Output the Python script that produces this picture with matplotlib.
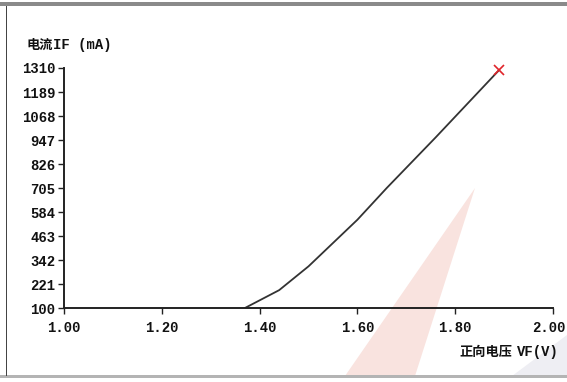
import matplotlib.pyplot as plt
import matplotlib.transforms as mtransforms
from matplotlib.patches import Polygon, Rectangle

plt.rcParams['font.family'] = ['Noto Sans CJK SC', 'DejaVu Sans']

# forward voltage (V) and forward current (mA)
vf = [1.37, 1.44, 1.50, 1.60, 1.66, 1.76, 1.89]
if_ma = [100, 190, 310, 545, 705, 960, 1300]

# end point marker
vf_end = [1.89]
if_end = [1300]

yticks = [100, 221, 342, 463, 584, 705, 826, 947, 1068, 1189, 1310]
xticks = [1.00, 1.20, 1.40, 1.60, 1.80, 2.00]
xticklabels = ['1.00', '1.20', '1.40', '1.60', '1.80', '2.00']

fig = plt.figure(figsize=(5.67, 3.82), dpi=100)
W, H = 567.0, 382.0

# faint watermark wedges behind everything
fig.patches.append(Polygon([(475 / W, 1 - 188 / H), (345 / W, 1 - 376 / H), (415 / W, 1 - 376 / H)],
                           closed=True, transform=fig.transFigure,
                           facecolor='#f9e3df', edgecolor='none', zorder=-2))
fig.patches.append(Polygon([(1.0, 1 - 335 / H), (1.0, 1 - 376 / H), (512 / W, 1 - 376 / H)],
                           closed=True, transform=fig.transFigure,
                           facecolor='#eeeef3', edgecolor='none', zorder=-2))

# outer frame
fig.patches.append(Rectangle((0, 1 - 6 / H), 1, 4 / H, transform=fig.transFigure,
                             facecolor='#8a8a8a', edgecolor='none', zorder=-1))
fig.patches.append(Rectangle((0, 4 / H), 1, 3 / H, transform=fig.transFigure,
                             facecolor='#b4b4b4', edgecolor='none', zorder=-1))
fig.patches.append(Rectangle((6 / W, 6 / H), 1.2 / W, 1 - 12 / H, transform=fig.transFigure,
                             facecolor='#444444', edgecolor='none', zorder=-1))

ax = fig.add_axes([64 / W, 1 - 308 / H, (553 - 64) / W, (308 - 68) / H])
ax.patch.set_alpha(0)

ax.plot(vf, if_ma, color='#333333', linewidth=1.3)
ax.plot(vf_end, if_end, marker='x', color='#e0242a', markersize=7, markeredgewidth=1.2,
        linestyle='none', clip_on=False)

ax.set_xlim(1.0, 2.0)
ax.set_ylim(100, 1310)
ax.set_xticks(xticks)
ax.set_xticklabels(xticklabels)
ax.set_yticks(yticks)

for s in ['top', 'right']:
    ax.spines[s].set_visible(False)
for s in ['left', 'bottom']:
    ax.spines[s].set_linewidth(1.4)
    ax.spines[s].set_color('#222222')

ax.tick_params(axis='both', direction='out', length=4, width=1, colors='#222222',
               pad=2)
for lab in ax.get_xticklabels() + ax.get_yticklabels():
    lab.set_fontfamily('Liberation Mono')
    lab.set_fontweight('bold')
    lab.set_fontsize(10)
    lab.set_color('#111111')
for lab in ax.get_xticklabels():
    lab.set_y(-0.02)

# last x label sits against the right edge
last = ax.get_xticklabels()[-1]
last.set_horizontalalignment('right')
last.set_transform(last.get_transform() + mtransforms.ScaledTranslation(13 / 100, 0, fig.dpi_scale_trans))

# axis titles
fig.text(27 / W, 1 - 45 / H, '电流', fontsize=9.5, fontweight='bold', va='center',
         ha='left', color='#111111')
fig.text(53 / W, 1 - 45 / H, 'IF (mA)', fontsize=10, fontweight='bold', va='center',
         ha='left', color='#111111', family='Liberation Mono')
fig.text(512 / W, 1 - 352 / H, '正向电压', fontsize=9.5, fontweight='bold', va='center',
         ha='right', color='#111111')
fig.text(517 / W, 1 - 352 / H, 'VF(V)', fontsize=10, fontweight='bold', va='center',
         ha='left', color='#111111', family='Liberation Mono')

fig.savefig('out.png', dpi=100)
